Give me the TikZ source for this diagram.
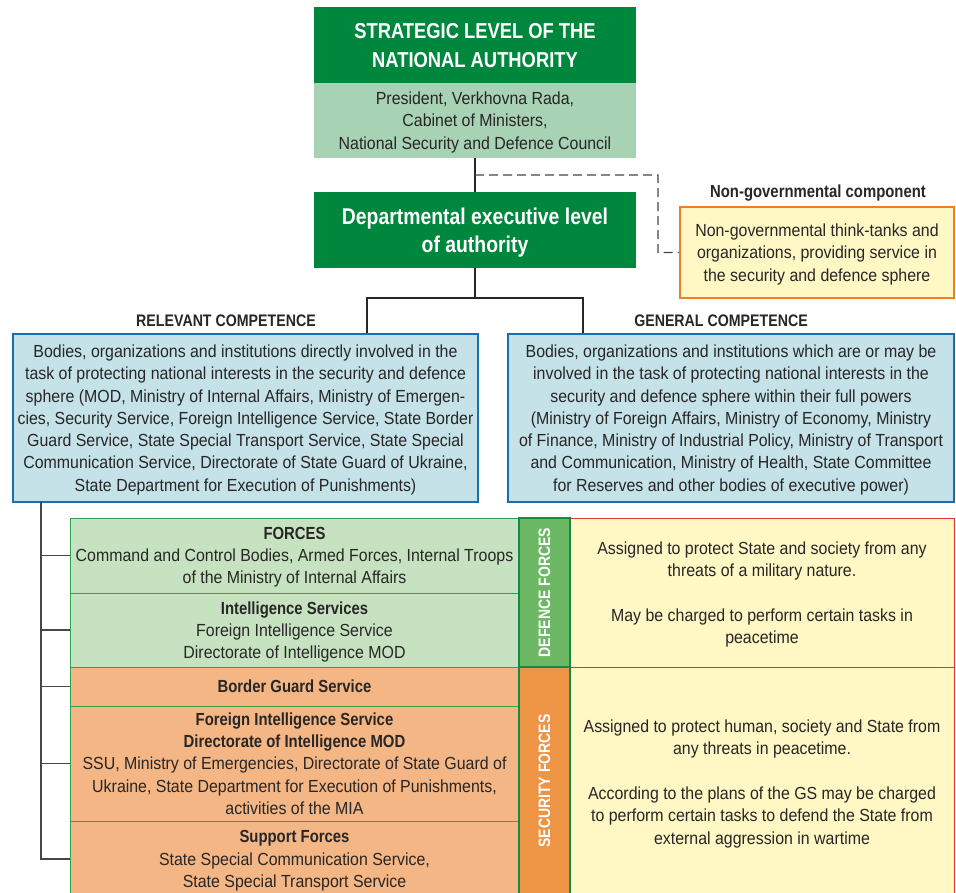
\documentclass[tikz,border=0pt]{standalone}
\usepackage{fontspec}
\setmainfont{Liberation Sans}[UprightFeatures={FakeStretch=0.91}, BoldFeatures={FakeStretch=0.85}]
\usetikzlibrary{calc}
\definecolor{dkgreen}{RGB}{0,135,62}
\definecolor{paleg}{RGB}{168,210,180}
\definecolor{bluebd}{RGB}{27,109,178}
\definecolor{bluefill}{RGB}{196,226,231}
\definecolor{orbd}{RGB}{238,128,36}
\definecolor{yfill}{RGB}{255,247,196}
\definecolor{rowg}{RGB}{198,226,192}
\definecolor{rowgbd}{RGB}{52,160,82}
\definecolor{rowo}{RGB}{243,182,132}
\definecolor{colg}{RGB}{108,184,100}
\definecolor{colgbd}{RGB}{21,138,64}
\definecolor{colo}{RGB}{238,148,69}
\definecolor{redbd}{RGB}{227,52,47}
\definecolor{txt}{RGB}{40,38,38}
\definecolor{dashc}{RGB}{70,70,70}
\begin{document}
\begin{tikzpicture}[x=1pt,y=-1pt,
  bodyfont/.style={font=\fontsize{17.5}{22.3}\selectfont},
  cellbox/.style={rectangle, inner sep=0pt, align=center, text=txt, bodyfont, text depth=-6pt},
  darkbox/.style={cellbox, fill=dkgreen, text=white},
  palebox/.style={cellbox, fill=paleg},
  ngobox/.style={cellbox, draw=orbd, line width=2.5pt, fill=yfill},
  bluebox/.style={cellbox, draw=bluebd, line width=2.5pt, fill=bluefill},
  greenrow/.style={cellbox, draw=rowgbd, line width=1pt, fill=rowg},
  orangerow/.style={cellbox, draw=rowgbd, line width=1pt, fill=rowo},
  ycell/.style={cellbox, draw=redbd, line width=1pt, fill=yfill},
  gcol/.style={rectangle, draw=colgbd, line width=2.5pt, fill=colg, inner sep=0pt},
  ocol/.style={rectangle, draw=colgbd, line width=2.5pt, fill=colo, inner sep=0pt},
  vlab/.style={rotate=90, text=white, font=\fontsize{16.5}{20}\selectfont\bfseries},
  headlab/.style={text=txt, font=\fontsize{17.5}{20}\selectfont\bfseries},
  treeline/.style={draw=txt, line width=2.5pt},
  ltreeline/.style={draw=txt!85, line width=1.5pt},
  dashline/.style={draw=dashc, line width=1.3pt, dash pattern=on 9pt off 5pt}
]
\useasboundingbox (0,0) rectangle (956,892);
\clip (0,0) rectangle (956,892);
\fill[white] (0,0) rectangle (956,892);

% top
\node[darkbox, minimum width=322, minimum height=76, font=\fontsize{21.6}{29}\selectfont\bfseries, text depth=-4pt] (strat) at (475,45) {STRATEGIC LEVEL OF THE\\NATIONAL AUTHORITY};
\node[palebox, minimum width=322, minimum height=75] (stratb) at (475,120.5) {President, Verkhovna Rada,\\Cabinet of Ministers,\\National Security and Defence Council};
\node[darkbox, minimum width=322, minimum height=76, font=\fontsize{22.8}{28}\selectfont\bfseries, text depth=-6.5pt] (dept) at (475,230) {Departmental executive level\\of authority};

% non-governmental
\node[headlab] (ngolab) at (818,193) {Non-governmental component};
\node[ngobox, minimum width=274, minimum height=91] (ngo) at (817,252.5) {Non-governmental think-tanks and\\organizations, providing service in\\the security and defence sphere};

\coordinate (mid) at ($(stratb.south)!0.5!(dept.north)$);
\draw[treeline] (stratb.south) -- (dept.north);
\draw[dashline] (mid) -- (658,175) |- (ngo.west);

% competence
\node[bluebox, minimum width=465, minimum height=168] (lbox) at (245.5,418) {Bodies, organizations and institutions directly involved in the\\task of protecting national interests in the security and defence\\sphere (MOD, Ministry of Internal Affairs, Ministry of Emergen-\\cies, Security Service, Foreign Intelligence Service, State Border\\Guard Service, State Special Transport Service, State Special\\Communication Service, Directorate of State Guard of Ukraine,\\State Department for Execution of Punishments)};
\node[bluebox, minimum width=446, minimum height=168] (rbox) at (731,418) {Bodies, organizations and institutions which are or may be\\involved in the task of protecting national interests in the\\security and defence sphere within their full powers\\(Ministry of Foreign Affairs, Ministry of Economy, Ministry\\of Finance, Ministry of Industrial Policy, Ministry of Transport\\and Communication, Ministry of Health, State Committee\\for Reserves and other bodies of executive power)};
\node[headlab, font=\fontsize{16.7}{20}\selectfont\bfseries] (rellab) at (226,321) {RELEVANT COMPETENCE};
\node[headlab, font=\fontsize{16.7}{20}\selectfont\bfseries] (genlab) at (721,321) {GENERAL COMPETENCE};

\coordinate (fork) at (475,298);
\draw[treeline] (dept.south) -- (fork);
\draw[treeline] (fork) -| ([xshift=121.5pt]lbox.north);
\draw[treeline] (fork) -| ([xshift=-148pt]rbox.north);

% table rows
\node[greenrow, minimum width=449, minimum height=75] (forces) at (294.5,555.5) {\textbf{FORCES}\\Command and Control Bodies, Armed Forces, Internal Troops\\of the Ministry of Internal Affairs};
\node[greenrow, minimum width=449, minimum height=74] (intel) at (294.5,630) {\textbf{Intelligence Services}\\Foreign Intelligence Service\\Directorate of Intelligence MOD};
\node[orangerow, minimum width=449, minimum height=39] (border) at (294.5,686.5) {\textbf{Border Guard Service}};
\node[orangerow, minimum width=449, minimum height=115] (fis) at (294.5,763.5) {\textbf{Foreign Intelligence Service}\\\textbf{Directorate of Intelligence MOD}\\SSU, Ministry of Emergencies, Directorate of State Guard of\\Ukraine, State Department for Execution of Punishments,\\activities of the MIA};
\node[orangerow, minimum width=449, minimum height=76] (support) at (294.5,859) {\textbf{Support Forces}\\State Special Communication Service,\\State Special Transport Service};

% yellow cells
\node[ycell, minimum width=384, minimum height=149] (ytop) at (762,592.5) {Assigned to protect State and society from any\\threats of a military nature.\\[22.3pt]May be charged to perform certain tasks in\\peacetime};
\node[ycell, minimum width=384, minimum height=230] (ybot) at (762,782) {Assigned to protect human, society and State from\\any threats in peacetime.\\[22.3pt]According to the plans of the GS may be charged\\to perform certain tasks to defend the State from\\external aggression in wartime};

% side columns
\node[gcol, minimum width=51, minimum height=149] (defcol) at (544.5,592.5) {};
\node[vlab] (deflab) at (defcol.center) {DEFENCE FORCES};
\node[ocol, minimum width=51, minimum height=230] (seccol) at (544.5,782) {};
\node[vlab] (seclab) at (544.5,781) {SECURITY FORCES};

% left trunk
\coordinate (trunk) at (41,502);
\draw[ltreeline] (trunk) |- (support.west);
\draw[ltreeline] (trunk |- forces.west) -- (forces.west);
\draw[ltreeline] (trunk |- intel.west) -- (intel.west);
\draw[ltreeline] (trunk |- border.west) -- (border.west);
\draw[ltreeline] (trunk |- fis.west) -- (fis.west);
\end{tikzpicture}
\end{document}
